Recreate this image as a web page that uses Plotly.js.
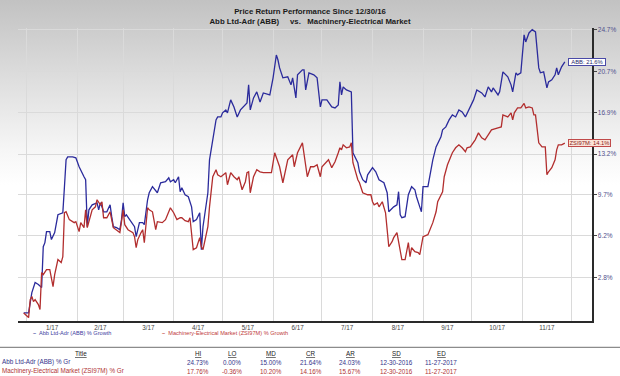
<!DOCTYPE html>
<html><head><meta charset="utf-8">
<script src="https://cdn.plot.ly/plotly-3.0.1.min.js"></script>
<style>
html,body{margin:0;padding:0;background:#fff;}
#chart{width:620px;height:376px;background:linear-gradient(to bottom,#c2c2c2 0px,#dedede 80px,#f6f6f6 150px,#ffffff 185px);}
</style></head><body><div id="chart"></div>
<script>
// ---------- data ----------
const abbDates = ['2016-12-30','2017-01-02','2017-01-04','2017-01-06','2017-01-08','2017-01-10','2017-01-11','2017-01-12','2017-01-13','2017-01-15','2017-01-16','2017-01-18','2017-01-20','2017-01-23','2017-01-24','2017-01-25','2017-01-26','2017-01-29','2017-01-31',
'2017-02-02','2017-02-05','2017-02-06','2017-02-07','2017-02-08','2017-02-10','2017-02-13','2017-02-14','2017-02-15','2017-02-16','2017-02-17','2017-02-19','2017-02-21','2017-02-22','2017-02-23','2017-02-25','2017-02-27','2017-02-28',
'2017-03-01','2017-03-02','2017-03-03','2017-03-05','2017-03-07','2017-03-08','2017-03-09','2017-03-10','2017-03-11','2017-03-13','2017-03-14','2017-03-16','2017-03-17','2017-03-19','2017-03-22','2017-03-24','2017-03-27','2017-03-29','2017-03-30',
'2017-04-01','2017-04-02','2017-04-04','2017-04-05','2017-04-06','2017-04-08','2017-04-10','2017-04-12','2017-04-13','2017-04-15','2017-04-17','2017-04-18','2017-04-19','2017-04-22','2017-04-23','2017-04-25','2017-04-27','2017-04-28','2017-04-30',
'2017-05-01','2017-05-03','2017-05-04','2017-05-06','2017-05-08','2017-05-10','2017-05-12','2017-05-15','2017-05-16','2017-05-17','2017-05-18','2017-05-20','2017-05-22','2017-05-24','2017-05-26','2017-05-30',
'2017-06-01','2017-06-03','2017-06-04','2017-06-05','2017-06-07','2017-06-10','2017-06-12','2017-06-13','2017-06-15','2017-06-16','2017-06-19','2017-06-20','2017-06-21','2017-06-23','2017-06-26','2017-06-28','2017-06-30',
'2017-07-01','2017-07-04','2017-07-07','2017-07-09','2017-07-11','2017-07-12','2017-07-13','2017-07-14','2017-07-16','2017-07-19','2017-07-20','2017-07-23','2017-07-24','2017-07-26','2017-07-28','2017-07-29',
'2017-08-01','2017-08-03','2017-08-05','2017-08-08','2017-08-10','2017-08-11','2017-08-14','2017-08-16','2017-08-17','2017-08-18','2017-08-19','2017-08-21','2017-08-23','2017-08-25','2017-08-27','2017-08-28','2017-08-30','2017-08-31',
'2017-09-01','2017-09-04','2017-09-07','2017-09-09','2017-09-12','2017-09-13','2017-09-15','2017-09-17','2017-09-19','2017-09-21','2017-09-23','2017-09-25','2017-09-27','2017-09-29',
'2017-10-02','2017-10-04','2017-10-07','2017-10-09','2017-10-11','2017-10-13','2017-10-14','2017-10-17','2017-10-18','2017-10-20','2017-10-23','2017-10-25','2017-10-26','2017-10-28','2017-10-29','2017-10-31',
'2017-11-02','2017-11-03','2017-11-05','2017-11-07','2017-11-09','2017-11-11','2017-11-12','2017-11-14','2017-11-16','2017-11-17','2017-11-19','2017-11-21','2017-11-22','2017-11-23','2017-11-25','2017-11-27'];
const abbPct = [0.00,0.00,1.60,2.40,2.24,2.00,5.30,5.64,6.55,6.55,5.89,6.47,7.96,8.13,10.35,12.69,12.95,12.95,12.86,
12.08,11.21,10.95,6.96,8.38,8.80,8.97,8.38,8.97,8.63,8.21,8.21,8.80,7.80,6.96,6.88,6.71,7.55,
8.97,7.80,7.96,7.55,7.13,6.96,6.13,6.71,7.30,7.30,7.13,9.23,9.83,10.35,9.83,10.69,10.78,11.12,10.78,
10.95,10.69,11.21,9.92,10.26,9.66,9.49,8.63,7.38,7.55,8.13,5.06,6.96,9.83,12.69,14.46,16.25,16.52,16.52,
16.89,17.16,16.89,18.08,17.43,16.52,17.16,17.62,17.80,19.47,17.16,18.26,18.82,17.89,18.72,18.54,
20.13,22.29,21.81,21.06,20.13,20.22,19.47,20.13,18.26,20.41,20.88,20.88,19.00,20.60,20.41,20.13,17.43,
18.08,18.08,17.43,17.34,17.62,19.75,18.54,19.28,19.00,18.82,13.31,12.43,11.64,10.95,10.69,11.38,
12.00,11.64,10.95,10.69,9.83,8.21,8.63,8.80,9.92,7.96,7.71,7.80,9.66,10.35,10.09,9.49,8.63,8.21,
10.35,10.35,12.69,13.83,14.72,15.35,15.62,16.25,16.70,16.52,17.16,16.98,16.52,17.16,
18.08,19.00,18.72,18.35,19.28,18.82,19.19,18.54,18.82,20.69,20.22,19.47,18.82,20.60,20.41,20.60,
24.22,23.54,24.41,24.73,24.51,21.06,20.60,20.69,19.19,19.75,19.94,20.41,21.06,20.41,21.16,21.64];

const zsiDates = ['2016-12-30','2017-01-02','2017-01-03','2017-01-04','2017-01-05','2017-01-06','2017-01-08','2017-01-09','2017-01-10','2017-01-11','2017-01-13','2017-01-15','2017-01-17','2017-01-18','2017-01-20','2017-01-22','2017-01-23','2017-01-24','2017-01-25','2017-01-27','2017-01-29','2017-01-30','2017-01-31',
'2017-02-02','2017-02-03','2017-02-04','2017-02-05','2017-02-06','2017-02-07','2017-02-10','2017-02-12','2017-02-13','2017-02-14','2017-02-15','2017-02-16','2017-02-17','2017-02-19','2017-02-21','2017-02-23','2017-02-25','2017-02-27','2017-02-28',
'2017-03-01','2017-03-02','2017-03-04','2017-03-07','2017-03-08','2017-03-09','2017-03-10','2017-03-12','2017-03-13','2017-03-14','2017-03-16','2017-03-17','2017-03-19','2017-03-21','2017-03-22','2017-03-25','2017-03-27','2017-03-30',
'2017-04-01','2017-04-03','2017-04-05','2017-04-06','2017-04-08','2017-04-10','2017-04-11','2017-04-13','2017-04-15','2017-04-17','2017-04-18','2017-04-19','2017-04-22','2017-04-23','2017-04-25','2017-04-27','2017-04-28','2017-04-30',
'2017-05-03','2017-05-04','2017-05-06','2017-05-08','2017-05-10','2017-05-11','2017-05-13','2017-05-15','2017-05-16','2017-05-17','2017-05-18','2017-05-20','2017-05-22','2017-05-24','2017-05-26','2017-05-31',
'2017-06-02','2017-06-05','2017-06-07','2017-06-10','2017-06-12','2017-06-13','2017-06-14','2017-06-16','2017-06-19','2017-06-20','2017-06-22','2017-06-24','2017-06-26','2017-06-28','2017-06-30',
'2017-07-01','2017-07-03','2017-07-05','2017-07-07','2017-07-09','2017-07-11','2017-07-12','2017-07-13','2017-07-14','2017-07-16','2017-07-18','2017-07-19','2017-07-20','2017-07-23','2017-07-24','2017-07-26','2017-07-29','2017-07-31',
'2017-08-01','2017-08-02','2017-08-04','2017-08-05','2017-08-07','2017-08-09','2017-08-11','2017-08-13','2017-08-14','2017-08-16','2017-08-17','2017-08-19','2017-08-21','2017-08-22','2017-08-23','2017-08-24','2017-08-25','2017-08-27','2017-08-29','2017-08-30',
'2017-09-01','2017-09-04','2017-09-07','2017-09-09','2017-09-10','2017-09-13','2017-09-14','2017-09-16','2017-09-19','2017-09-21','2017-09-23','2017-09-25','2017-09-27','2017-09-28','2017-09-30',
'2017-10-03','2017-10-05','2017-10-07','2017-10-09','2017-10-11','2017-10-13','2017-10-17','2017-10-19','2017-10-20','2017-10-23','2017-10-25','2017-10-26','2017-10-27','2017-10-29','2017-10-31',
'2017-11-02','2017-11-03','2017-11-05','2017-11-07','2017-11-08','2017-11-09','2017-11-11','2017-11-13','2017-11-15','2017-11-16','2017-11-17','2017-11-19','2017-11-21','2017-11-22','2017-11-23','2017-11-25','2017-11-27'];
const zsiPct = [0.00,-0.36,1.05,1.29,0.89,1.05,0.66,0.27,3.20,3.04,3.44,3.44,2.08,3.04,4.25,4.01,4.49,8.13,8.21,7.55,7.38,7.30,7.38,
6.55,7.30,7.13,6.88,8.38,6.88,8.38,8.63,9.23,8.97,8.80,9.06,7.71,7.71,8.21,6.88,6.71,6.47,7.38,
8.38,7.13,6.71,6.47,6.13,5.22,5.89,6.47,6.71,5.64,8.55,8.38,8.21,6.71,7.38,7.30,7.55,8.55,
8.13,7.55,7.71,7.71,7.46,7.38,7.71,5.06,5.22,6.05,5.30,5.06,6.96,8.63,11.21,11.82,11.38,11.21,
11.56,10.52,11.56,11.21,10.95,11.21,10.09,10.78,11.56,11.64,9.83,11.21,11.82,11.64,11.56,11.56,
13.31,12.08,10.69,12.69,12.95,13.13,12.08,13.31,14.19,13.31,11.21,12.08,12.08,12.25,11.21,
12.08,12.43,12.69,12.00,12.51,13.31,13.75,13.57,14.01,13.75,13.83,14.19,12.43,10.95,10.69,9.83,9.66,9.66,
9.06,8.80,8.97,8.63,9.06,8.13,5.30,5.72,6.05,6.47,5.72,4.25,4.25,4.82,5.64,4.49,5.22,4.90,4.82,4.66,
6.13,6.30,7.30,8.21,9.06,9.92,11.21,12.25,13.31,13.75,14.01,13.75,13.40,13.75,13.83,
14.46,15.08,14.64,14.46,14.90,15.35,15.53,15.62,16.70,16.52,16.89,16.25,16.89,17.34,17.34,
17.76,17.34,17.43,17.34,16.70,16.70,14.19,13.83,13.83,11.38,11.64,12.00,12.69,13.57,14.01,14.01,14.16];

const seriesNames = ['Abb Ltd-Adr (ABB) % Growth', 'Machinery-Electrical Market (ZSI97M) % Growth'];
const endLabels = ['ABB: 21.6%', 'ZSI97M: 14.1%'];
const yTickPct = [24.7, 20.7, 16.9, 13.2, 9.7, 6.2, 2.8];
const tableHeaders = ['Title', 'HI', 'LO', 'MD', 'CR', 'AR', 'SD', 'ED'];
const abbStats = ['Abb Ltd-Adr (ABB) % Gr', '24.73%', '0.00%', '15.00%', '21.64%', '24.03%', '12-30-2016', '11-27-2017'];
const zsiStats = ['Machinery-Electrical Market (ZSI97M) % Gr', '17.76%', '-0.36%', '10.20%', '14.16%', '15.67%', '12-30-2016', '11-27-2017'];

// ---------- geometry / style ----------
const W = 620, H = 376, L = 18, R = 591.7, T = 28, B = 321.5;
const px = X => (X - L) / (R - L);
const py = Y => (B - Y) / (B - T);
const toRatio = p => 1 + p / 100;
const FONT = 'Liberation Sans, Arial, sans-serif';
const BLUE = '#2b2b9c', RED = '#b22e2e';

const traces = [
  {x: abbDates, y: abbPct.map(toRatio), name: seriesNames[0], type: 'scatter', mode: 'lines',
   line: {color: BLUE, width: 1.3}, hoverinfo: 'skip', showlegend: false},
  {x: zsiDates, y: zsiPct.map(toRatio), name: seriesNames[1], type: 'scatter', mode: 'lines',
   line: {color: RED, width: 1.3}, hoverinfo: 'skip', showlegend: false}
];

const ann = [];
// end labels
ann.push({x: abbDates[abbDates.length - 1], y: Math.log10(toRatio(abbPct[abbPct.length - 1])), xref: 'x', yref: 'y',
  text: endLabels[0], showarrow: false, xanchor: 'left', yanchor: 'middle', xshift: 3,
  font: {size: 5.8, color: '#1f1f6e', family: FONT}, bgcolor: '#ffffff', bordercolor: '#4a4aa8', borderwidth: 1, borderpad: 0,
  width: 36, height: 6});
ann.push({x: zsiDates[zsiDates.length - 1], y: Math.log10(toRatio(zsiPct[zsiPct.length - 1])), xref: 'x', yref: 'y',
  text: endLabels[1], showarrow: false, xanchor: 'left', yanchor: 'middle', xshift: 3,
  font: {size: 5.8, color: '#8a1c1c', family: FONT}, bgcolor: '#fbe4d8', bordercolor: '#c04a4a', borderwidth: 1, borderpad: 0,
  width: 41, height: 6});
// legend
ann.push({x: px(31), y: py(334), xref: 'paper', yref: 'paper', xanchor: 'left', yanchor: 'middle', showarrow: false,
  text: '<b>\u2013</b>\u00a0 ' + seriesNames[0], font: {size: 5.6, color: '#4040a0', family: FONT}});
ann.push({x: px(160), y: py(334), xref: 'paper', yref: 'paper', xanchor: 'left', yanchor: 'middle', showarrow: false,
  text: '<b>\u2013</b>\u00a0 ' + seriesNames[1], font: {size: 5.6, color: '#c03a3a', family: FONT}});
// table
const colX = [81, 198, 232, 271, 311, 350, 396, 441];
const rowY = [354, 363, 372];
tableHeaders.forEach((h, i) => ann.push({x: px(colX[i]), y: py(rowY[0]), xref: 'paper', yref: 'paper', xanchor: 'center', yanchor: 'middle',
  showarrow: false, text: '<u>' + h + '</u>', font: {size: 6.3, color: '#222', family: FONT}}));
[[abbStats, '#34348a'], [zsiStats, '#b03434']].forEach(([row, col], r) => {
  row.forEach((v, i) => ann.push({x: i === 0 ? px(0.5) : px(colX[i]), y: py(rowY[r + 1]), xref: 'paper', yref: 'paper',
    xanchor: i === 0 ? 'left' : 'center', yanchor: 'middle', showarrow: false, text: v,
    font: {size: 6.3, color: col, family: FONT}}));
});

const layout = {
  width: W, height: H,
  margin: {l: L, r: W - R, t: T, b: H - B, pad: 0},
  paper_bgcolor: 'rgba(0,0,0,0)', plot_bgcolor: 'rgba(0,0,0,0)',
  font: {family: FONT, size: 7, color: '#333'},
  title: {text: '<b>Price Return Performance Since 12/30/16</b><br><b>Abb Ltd-Adr (ABB)\u00a0\u00a0\u00a0\u00a0 vs.\u00a0\u00a0 Machinery-Electrical Market</b>',
    x: 0.5, xref: 'container', xanchor: 'center', y: 1 - 14 / H, yref: 'container', yanchor: 'top',
    font: {size: 7.8, color: '#1a1a1a', family: FONT}},
  showlegend: false,
  xaxis: {type: 'date', range: ['2016-12-26 12:00', '2017-12-13 16:00'], dtick: 'M1', tick0: '2017-01-01',
    tickformat: '%-m/%y', ticklabelmode: 'period', showgrid: true, gridcolor: '#dadada', gridwidth: 1,
    showline: true, linecolor: '#2a2a2a', linewidth: 1.5, ticks: '', zeroline: false,
    tickfont: {size: 6.3, color: '#444', family: FONT}, fixedrange: true},
  yaxis: {type: 'log', range: [Math.log10(toRatio(-0.625)), Math.log10(toRatio(24.89))], side: 'right',
    tickvals: yTickPct.map(toRatio), ticktext: yTickPct.map(v => v.toFixed(1) + '%'),
    showgrid: true, gridcolor: '#dadada', gridwidth: 1, showline: true, linecolor: '#2a2a2a', linewidth: 1.5,
    ticks: 'outside', ticklen: 3, tickcolor: '#444', tickwidth: 1,
    tickfont: {size: 6.5, color: '#50508c', family: FONT}, fixedrange: true},
  shapes: [{type: 'line', xref: 'paper', yref: 'paper', x0: px(0), x1: px(W), y0: py(348), y1: py(348),
    line: {color: '#8c8c8c', width: 1.2}}],
  annotations: ann
};

Plotly.newPlot('chart', traces, layout, {staticPlot: true, displayModeBar: false});
</script></body></html>
